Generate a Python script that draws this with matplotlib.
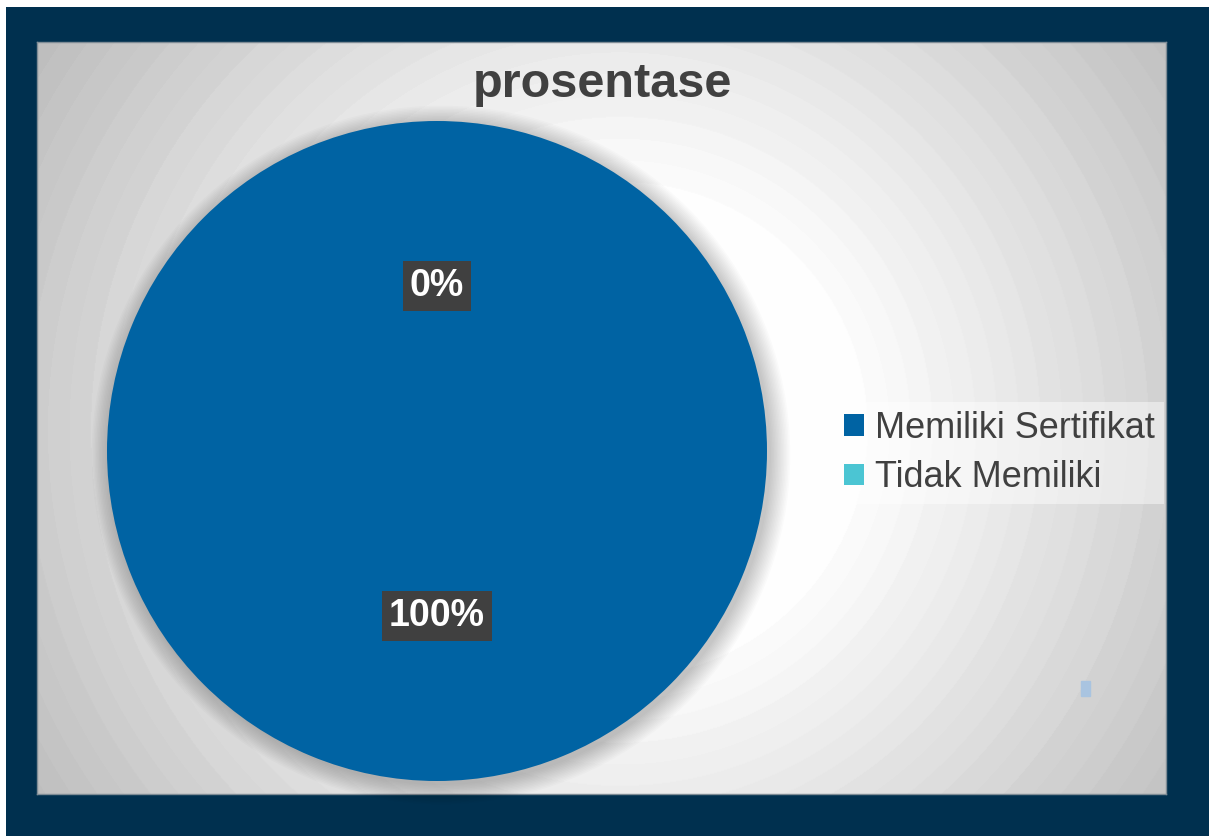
import numpy as np
import matplotlib.pyplot as plt
from matplotlib.patches import Rectangle, Circle

# data
labels = ["Memiliki Sertifikat", "Tidak Memiliki"]
values = [100, 0]
colors = ["#0063a3", "#4bc5d3"]
title = "prosentase"

W, H = 1209, 836
fig = plt.figure(figsize=(W / 100, H / 100), dpi=100)
fig.patch.set_facecolor("white")

# navy frame
frame = fig.add_axes([6 / W, 0, 1 - 6 / W, 1 - 7 / H], zorder=-5)
frame.set_facecolor("#00304f")
frame.set_xticks([])
frame.set_yticks([])
for s in frame.spines.values():
    s.set_visible(False)

# inner panel with radial gradient (banded)
px0, px1, py0, py1 = 37, 1166, 42, 794
bg = fig.add_axes([px0 / W, 1 - py1 / H, (px1 - px0) / W, (py1 - py0) / H], zorder=-4)
xs = np.arange(px0, px1) + 0.5
ys = np.arange(py0, py1) + 0.5
X, Y = np.meshgrid(xs, ys)
d = np.hypot(X - 620, Y - 430)
g = 1 - 0.25 * np.clip((d - 230) / 450, 0, 1.2)
g = np.round(g / 0.012) * 0.012
bg.imshow(np.clip(g, 0, 1), cmap="gray", vmin=0, vmax=1, aspect="auto",
          extent=[px0, px1, py1, py0], interpolation="bilinear")
bg.set_xlim(px0, px1)
bg.set_ylim(py1, py0)
for s in bg.spines.values():
    s.set_edgecolor("#7f8c96")
    s.set_linewidth(1)
bg.set_xticks([])
bg.set_yticks([])

# pie
cx, cy, r = 437, 451, 330
lim = 1.2
side = 2 * lim * r
ax = fig.add_axes([(cx - side / 2) / W, 1 - (cy + side / 2) / H, side / W, side / H])
ax.set_facecolor("none")
for i in range(14):
    ax.add_patch(Circle((0.012, -0.012), 1.0 + 0.0045 * i, fc="black", ec="none",
                        alpha=0.014, zorder=0))
wedges, texts, autotexts = ax.pie(values, colors=colors, startangle=90, counterclock=False,
                                  autopct="%1.0f%%", pctdistance=0.5,
                                  wedgeprops=dict(linewidth=0))
for t in autotexts:
    t.set_color("white")
    t.set_fontsize(27)
    t.set_fontweight("bold")
    t.set_family(["Liberation Sans", "DejaVu Sans"])
    t.set_bbox(dict(boxstyle="square,pad=0.18", fc="#404040", ec="none"))
ax.set_xlim(-lim, lim)
ax.set_ylim(-lim, lim)
ax.set_aspect("equal")
ax.axis("off")

# title
fig.text(602 / W, 1 - 97 / H, title, ha="center", va="baseline", fontsize=35,
         fontweight="bold", color="#404040", family=["Liberation Sans", "DejaVu Sans"])

# legend
leg = fig.legend(wedges, labels, loc="center left", bbox_to_anchor=(835 / W, 1 - 453 / H),
                 handlelength=0.55, handleheight=0.55, handletextpad=0.3,
                 labelspacing=0.4, borderpad=0.25, borderaxespad=0, frameon=True,
                 fancybox=False, prop={"family": ["Liberation Sans", "DejaVu Sans"], "size": 26})
leg.get_frame().set_facecolor("white")
leg.get_frame().set_alpha(0.45)
leg.get_frame().set_edgecolor("none")
for t in leg.get_texts():
    t.set_color("#404040")

# small leftover mark
fig.patches.append(Rectangle((1081 / W, 1 - 696 / H), 9 / W, 15 / H, transform=fig.transFigure,
                             color="#a9c4e0", zorder=3))

plt.savefig("out.png", dpi=100)
